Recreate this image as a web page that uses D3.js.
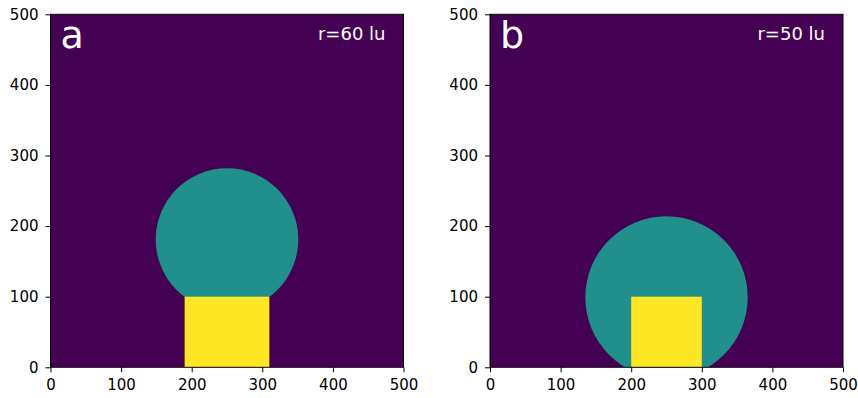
<!DOCTYPE html>
<html><head><meta charset="utf-8">
<script src="https://cdn.jsdelivr.net/npm/d3@7"></script>
<style>body{margin:0;background:#fff}svg{display:block}text{font-family:"DejaVu Sans",sans-serif}</style>
</head><body><svg id="c" width="858" height="398"></svg>
<script>
const panels = ["a", "b"];
const radiusLabels = ["r=60 lu", "r=50 lu"];
const circleCx = [250, 250];
const circleCy = [181, 99];
const circleR = [101, 115];
const rectX0 = [190, 200];
const rectX1 = [310, 300];
const rectY0 = [0, 0];
const rectY1 = [100, 100];
const ticks = [0, 100, 200, 300, 400, 500];
const domain = [0, 500];

const colors = {bg: "#440154", drop: "#21908d", solid: "#fde725"};
const svg = d3.select("#c");
const lefts = [50.5, 490];
const plotTop = 14.3, size = 353;

panels.forEach((p, i) => {
  const x = d3.scaleLinear().domain(domain).range([lefts[i], lefts[i] + size]);
  const y = d3.scaleLinear().domain(domain).range([plotTop + size, plotTop]);
  const g = svg.append("g");
  const cid = "clip" + i;
  svg.append("clipPath").attr("id", cid).append("rect")
    .attr("x", x(0)).attr("y", y(500)).attr("width", x(500) - x(0)).attr("height", y(0) - y(500));
  const plot = g.append("g").attr("clip-path", `url(#${cid})`);
  plot.append("rect").attr("x", x(0)).attr("y", y(500))
    .attr("width", x(500) - x(0)).attr("height", y(0) - y(500)).attr("fill", colors.bg);
  plot.append("ellipse").attr("cx", x(circleCx[i])).attr("cy", y(circleCy[i]))
    .attr("rx", x(circleR[i]) - x(0)).attr("ry", y(0) - y(circleR[i])).attr("fill", colors.drop);
  plot.append("rect").attr("x", x(rectX0[i])).attr("y", y(rectY1[i]))
    .attr("width", x(rectX1[i]) - x(rectX0[i])).attr("height", y(rectY0[i]) - y(rectY1[i]))
    .attr("fill", colors.solid);

  const xa = g.append("g").attr("transform", `translate(0,${y(0)})`)
    .call(d3.axisBottom(x).tickValues(ticks).tickSize(5).tickPadding(7).tickFormat(d3.format("d")));
  const ya = g.append("g").attr("transform", `translate(${x(0)},0)`)
    .call(d3.axisLeft(y).tickValues(ticks).tickSize(5).tickPadding(7).tickFormat(d3.format("d")));
  [xa, ya].forEach(a => {
    a.select(".domain").remove();
    a.attr("font-size", 15).attr("font-family", "DejaVu Sans");
    a.selectAll("text").attr("font-size", 15).attr("fill", "#000");
    a.selectAll("line").attr("stroke", "#000").attr("stroke-width", 1);
  });
  g.append("rect").attr("x", x(0)).attr("y", y(500)).attr("width", x(500) - x(0)).attr("height", y(0) - y(500))
    .attr("fill", "none").attr("stroke", "#000").attr("stroke-width", 1);

  g.append("text").attr("x", x(0) + 10).attr("y", plotTop + 34).attr("fill", "#fff")
    .attr("font-size", 38).text(p);
  g.append("text").attr("x", x(500) - 18).attr("y", plotTop + 26).attr("fill", "#fff")
    .attr("text-anchor", "end").attr("font-size", 18).text(radiusLabels[i]);
});
</script></body></html>
